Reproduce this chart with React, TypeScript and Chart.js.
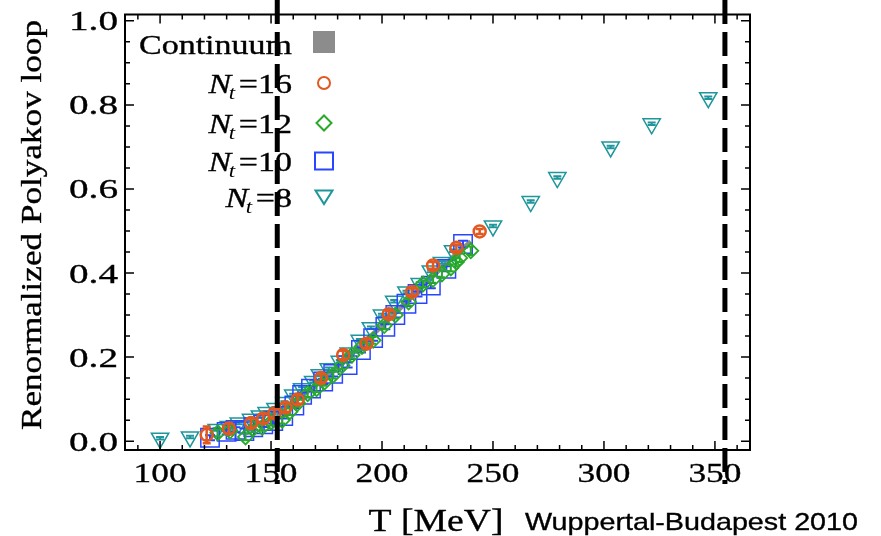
import React, { useEffect, useRef } from "react";
import { Chart, registerables } from "chart.js";

Chart.register(...registerables);

// ---------- data ----------
const nt16T = [121, 131, 141, 146.5, 151.5, 156.5, 162, 172.5, 182.5, 193, 203, 213.5, 223, 233.5, 244];
const nt16Y = [0.015, 0.03, 0.043, 0.054, 0.066, 0.08, 0.099, 0.15, 0.205, 0.232, 0.302, 0.355, 0.418, 0.46, 0.499];
const nt16Err = [0.02, 0.012, 0.011, 0.01, 0.01, 0.01, 0.01, 0.01, 0.01, 0.01, 0.008, 0.008, 0.008, 0.008, 0.006];

const nt12T = [126, 131.5, 138.5, 142, 146, 150, 155, 158.5, 162, 166.5, 170.5, 174, 178, 182, 186.5, 191, 196, 201, 206, 212, 218.5, 223, 227, 231, 233.5, 235, 240];
const nt12Y = [0.02, 0.024, 0.01, 0.03, 0.033, 0.045, 0.05, 0.07, 0.09, 0.113, 0.125, 0.14, 0.157, 0.18, 0.205, 0.225, 0.24, 0.275, 0.3, 0.331, 0.374, 0.385, 0.398, 0.412, 0.426, 0.436, 0.453];
const nt12Err = [0.008, 0.008, 0.008, 0.008, 0.008, 0.008, 0.008, 0.008, 0.008, 0.008, 0.008, 0.008, 0.008, 0.008, 0.008, 0.008, 0.008, 0.008, 0.008, 0.008, 0.008, 0.008, 0.008, 0.008, 0.01, 0.01, 0.01];

const nt10T = [122.5, 130, 134, 138, 142, 146.5, 151, 155.5, 160.5, 164, 168, 173.5, 178, 184.5, 190.5, 196, 201.5, 206, 211, 216, 222, 229, 236.5];
const nt10Y = [0.008, 0.022, 0.027, 0.024, 0.033, 0.04, 0.048, 0.06, 0.085, 0.11, 0.125, 0.142, 0.16, 0.181, 0.217, 0.245, 0.272, 0.3, 0.327, 0.35, 0.37, 0.41, 0.469];
const nt10Err = [0.006, 0.006, 0.006, 0.006, 0.006, 0.006, 0.006, 0.006, 0.006, 0.006, 0.006, 0.006, 0.006, 0.006, 0.006, 0.006, 0.006, 0.006, 0.006, 0.006, 0.006, 0.006, 0.008];

const nt8T = [100, 113.5, 125.5, 131, 135.5, 141, 145, 148, 152, 156, 160, 164, 169, 172, 176, 181, 185, 190, 195, 200, 205.5, 211, 217, 222, 227, 232, 250, 267, 279, 303, 321.5, 347];
const nt8Y = [0.007, 0.01, 0.028, 0.035, 0.043, 0.052, 0.06, 0.068, 0.078, 0.092, 0.11, 0.125, 0.142, 0.158, 0.172, 0.19, 0.21, 0.24, 0.27, 0.3, 0.333, 0.355, 0.375, 0.405, 0.425, 0.453, 0.512, 0.57, 0.627, 0.7, 0.755, 0.817];
const nt8Err = [0.003, 0.003, 0.003, 0.003, 0.003, 0.003, 0.003, 0.003, 0.003, 0.003, 0.003, 0.003, 0.003, 0.003, 0.003, 0.003, 0.003, 0.003, 0.003, 0.003, 0.003, 0.003, 0.003, 0.003, 0.003, 0.003, 0.003, 0.003, 0.003, 0.003, 0.003, 0.003];

const contT = [150, 160, 170, 180, 190, 200, 210, 220, 230, 240];
const contY = [0.062, 0.093, 0.133, 0.178, 0.225, 0.275, 0.326, 0.378, 0.428, 0.475];

const xTickValues = [100, 150, 200, 250, 300, 350];
const xTickLabels = ["100", "150", "200", "250", "300", "350"];
const yTickValues = [0, 0.2, 0.4, 0.6, 0.8, 1.0];
const yTickLabels = ["0.0", "0.2", "0.4", "0.6", "0.8", "1.0"];
const dashedT = [152.8, 354.5];

const legendNt = ["16", "12", "10", "8"];

// ---------- style ----------
const ORANGE = "rgb(226,88,32)";
const GREEN = "rgb(40,170,40)";
const BLUE = "rgb(40,70,255)";
const TEAL = "rgb(30,150,155)";
const GREY = "rgb(140,140,140)";
const SERIF = '"Liberation Serif", "Times New Roman", serif';
const SANS = '"Liberation Sans", Arial, sans-serif';

const pts = (xs: number[], ys: number[]) => xs.map((x, i) => ({ x, y: ys[i] }));

// horizontal scale so that `ref` text at `font` spans `target` px
function fitScale(ctx: CanvasRenderingContext2D, ref: string, font: string, target: number) {
  ctx.save();
  ctx.font = font;
  const w = ctx.measureText(ref).width;
  ctx.restore();
  return w > 0 ? target / w : 1;
}

function stretchText(ctx: CanvasRenderingContext2D, text: string, x: number, y: number, sx: number, align: CanvasTextAlign, font: string) {
  ctx.save();
  ctx.font = font;
  ctx.textAlign = align;
  ctx.textBaseline = "alphabetic";
  ctx.translate(x, y);
  ctx.scale(sx, 1);
  ctx.fillText(text, 0, 0);
  ctx.lineWidth = 0.35;
  ctx.strokeStyle = ctx.fillStyle as string;
  ctx.strokeText(text, 0, 0);
  ctx.restore();
}

function drawMarker(ctx: CanvasRenderingContext2D, kind: string, x: number, y: number, color: string) {
  ctx.save();
  ctx.strokeStyle = color;
  ctx.lineWidth = 2;
  ctx.beginPath();
  if (kind === "circle") {
    ctx.arc(x, y, 6, 0, Math.PI * 2);
  } else if (kind === "diamond") {
    ctx.moveTo(x, y - 7.5);
    ctx.lineTo(x + 7.5, y);
    ctx.lineTo(x, y + 7.5);
    ctx.lineTo(x - 7.5, y);
    ctx.closePath();
  } else if (kind === "square") {
    ctx.rect(x - 9, y - 8.5, 18, 17);
  } else if (kind === "triangle") {
    ctx.moveTo(x - 8.5, y - 6.5);
    ctx.lineTo(x + 8.5, y - 6.5);
    ctx.lineTo(x, y + 7);
    ctx.closePath();
  }
  ctx.stroke();
  ctx.restore();
}

const errorBarPlugin = {
  id: "errorBars",
  afterDatasetDraw(chart: any, args: any) {
    const ds = chart.data.datasets[args.index];
    if (!ds.errs) return;
    const ctx = chart.ctx;
    const xs = chart.scales.x;
    const ys = chart.scales.y;
    ctx.save();
    ctx.strokeStyle = ds.errColor;
    ctx.lineWidth = ds.errWidth;
    ds.data.forEach((p: any, i: number) => {
      const e = ds.errs[i];
      const px = xs.getPixelForValue(p.x);
      const y1 = ys.getPixelForValue(p.y - e);
      const y2 = ys.getPixelForValue(p.y + e);
      const cw = ds.capHalf;
      ctx.beginPath();
      ctx.moveTo(px, y1);
      ctx.lineTo(px, y2);
      ctx.moveTo(px - cw, y1);
      ctx.lineTo(px + cw, y1);
      ctx.moveTo(px - cw, y2);
      ctx.lineTo(px + cw, y2);
      ctx.stroke();
    });
    ctx.restore();
  },
};

const framePlugin = {
  id: "frameDecor",
  afterDraw(chart: any) {
    const ctx: CanvasRenderingContext2D = chart.ctx;
    const a = chart.chartArea;
    const xs = chart.scales.x;
    const ys = chart.scales.y;
    ctx.save();
    ctx.fillStyle = "#000";
    ctx.strokeStyle = "#000";

    // ticks (inward)
    ctx.lineWidth = 1.5;
    ctx.beginPath();
    for (let v = 90; v <= 360; v += 10) {
      const px = xs.getPixelForValue(v);
      const len = v % 50 === 0 ? 9 : 5;
      ctx.moveTo(px, a.bottom);
      ctx.lineTo(px, a.bottom - len);
      ctx.moveTo(px, a.top);
      ctx.lineTo(px, a.top + len);
    }
    for (let k = 0; k <= 20; k++) {
      const v = k * 0.05;
      const py = ys.getPixelForValue(v);
      const len = k % 4 === 0 ? 9 : 5;
      ctx.moveTo(a.left, py);
      ctx.lineTo(a.left + len, py);
      ctx.moveTo(a.right, py);
      ctx.lineTo(a.right - len, py);
    }
    ctx.stroke();

    // frame
    ctx.lineWidth = 2;
    ctx.strokeRect(a.left, a.top, a.right - a.left, a.bottom - a.top);

    // tick labels
    const tickFont = `28px ${SERIF}`;
    const sxX = fitScale(ctx, "100", tickFont, 53);
    const sxY = fitScale(ctx, "0.8", tickFont, 49);
    xTickValues.forEach((v, i) => {
      stretchText(ctx, xTickLabels[i], xs.getPixelForValue(v), 482, sxX, "center", tickFont);
    });
    yTickValues.forEach((v, i) => {
      stretchText(ctx, yTickLabels[i], 118, ys.getPixelForValue(v) + 9.5, sxY, "right", tickFont);
    });

    // axis titles
    const yTitle = "Renormalized Polyakov loop";
    const yTitleFont = `30px ${SERIF}`;
    const sYT = fitScale(ctx, yTitle, yTitleFont, 410);
    ctx.save();
    ctx.font = yTitleFont;
    ctx.textAlign = "center";
    ctx.textBaseline = "alphabetic";
    ctx.translate(41, 225);
    ctx.rotate(-Math.PI / 2);
    ctx.scale(sYT, 1);
    ctx.fillText(yTitle, 0, 0);
    ctx.lineWidth = 0.35;
    ctx.strokeText(yTitle, 0, 0);
    ctx.restore();

    const xTitleFont = `32px ${SERIF}`;
    stretchText(ctx, "T [MeV]", 436, 531, fitScale(ctx, "T [MeV]", xTitleFont, 135), "center", xTitleFont);
    const wmFont = `24px ${SANS}`;
    const wm = "Wuppertal-Budapest 2010";
    stretchText(ctx, wm, 525, 530, fitScale(ctx, wm, wmFont, 333), "left", wmFont);

    // legend
    const legFont = `28px ${SERIF}`;
    const lsx = fitScale(ctx, "Continuum", legFont, 153);
    stretchText(ctx, "Continuum", 292, 54, lsx, "right", legFont);
    ctx.fillStyle = GREY;
    ctx.fillRect(313, 31, 22, 22);
    ctx.fillStyle = "#000";
    const rowsY = [83, 123, 161, 197];
    const kinds = ["circle", "diamond", "square", "triangle"];
    const colors = [ORANGE, GREEN, BLUE, TEAL];
    legendNt.forEach((num, i) => {
      const base = rowsY[i] + 10;
      const fN = `italic 28px ${SERIF}`;
      const fT = `italic 19px ${SERIF}`;
      const fM = `28px ${SERIF}`;
      ctx.font = fN;
      const wN = ctx.measureText("N").width;
      ctx.font = fT;
      const wt = ctx.measureText("t").width;
      ctx.font = fM;
      const wEq = ctx.measureText("=" + num).width;
      const total = (wN + wt + 1 + wEq) * lsx;
      const start = 292 - total;
      ctx.save();
      ctx.translate(start, base);
      ctx.scale(lsx, 1);
      ctx.textAlign = "left";
      ctx.textBaseline = "alphabetic";
      ctx.lineWidth = 0.35;
      ctx.strokeStyle = "#000";
      ctx.font = fN;
      ctx.fillText("N", 0, 0);
      ctx.strokeText("N", 0, 0);
      ctx.font = fT;
      ctx.fillText("t", wN - 2, 6);
      ctx.font = fM;
      ctx.fillText("=" + num, wN + wt + 1, 0);
      ctx.strokeText("=" + num, wN + wt + 1, 0);
      ctx.restore();
      drawMarker(ctx, kinds[i], 324, rowsY[i], colors[i]);
    });

    // dashed vertical lines
    ctx.strokeStyle = "#000";
    ctx.lineWidth = 5;
    ctx.setLineDash([24, 8]);
    dashedT.forEach((t) => {
      const px = xs.getPixelForValue(t);
      ctx.beginPath();
      ctx.moveTo(px, 0);
      ctx.lineTo(px, 484);
      ctx.stroke();
    });
    ctx.setLineDash([]);
    ctx.restore();
  },
};

export default function App() {
  const ref = useRef<HTMLCanvasElement | null>(null);

  useEffect(() => {
    if (!ref.current) return;
    const chart = new Chart(ref.current, {
      type: "scatter",
      data: {
        datasets: [
          {
            label: "Nt=16",
            data: pts(nt16T, nt16Y),
            pointStyle: "circle",
            pointRadius: 6,
            pointBorderWidth: 2.5,
            pointBorderColor: ORANGE,
            pointBackgroundColor: "rgba(0,0,0,0)",
            borderColor: ORANGE,
            errs: nt16Err,
            errColor: ORANGE,
            errWidth: 2.5,
            capHalf: 4,
          } as any,
          {
            label: "Nt=12",
            data: pts(nt12T, nt12Y),
            pointStyle: "rectRot",
            pointRadius: 7.5,
            pointBorderWidth: 1.8,
            pointBorderColor: GREEN,
            pointBackgroundColor: "rgba(0,0,0,0)",
            borderColor: GREEN,
            errs: nt12Err,
            errColor: GREEN,
            errWidth: 2,
            capHalf: 3,
          } as any,
          {
            label: "Nt=10",
            data: pts(nt10T, nt10Y),
            pointStyle: "rect",
            pointRadius: 13,
            pointBorderWidth: 1.5,
            pointBorderColor: BLUE,
            pointBackgroundColor: "rgba(0,0,0,0)",
            borderColor: BLUE,
            errs: nt10Err,
            errColor: BLUE,
            errWidth: 2,
            capHalf: 5,
          } as any,
          {
            label: "Nt=8",
            data: pts(nt8T, nt8Y),
            pointStyle: "triangle",
            pointRotation: 180,
            pointRadius: 10,
            pointBorderWidth: 1.5,
            pointBorderColor: TEAL,
            pointBackgroundColor: "rgba(0,0,0,0)",
            borderColor: TEAL,
            errs: nt8Err,
            errColor: TEAL,
            errWidth: 2,
            capHalf: 4,
          } as any,
          {
            label: "Continuum",
            data: pts(contT, contY),
            showLine: true,
            pointRadius: 0,
            borderColor: GREY,
            borderWidth: 5,
            tension: 0.3,
          } as any,
        ],
      },
      options: {
        animation: false,
        responsive: false,
        events: [],
        layout: { padding: { left: 125, right: 131, top: 12, bottom: 86 } },
        plugins: {
          legend: { display: false },
          tooltip: { enabled: false },
          title: { display: false },
        },
        scales: {
          x: { type: "linear", display: false, min: 84.2, max: 365.8 },
          y: { type: "linear", display: false, min: -0.021, max: 1.015 },
        },
      },
      plugins: [errorBarPlugin, framePlugin],
    });
    return () => chart.destroy();
  }, []);

  return (
    <div style={{ position: "absolute", left: 0, top: 0, width: 881, height: 536, background: "#fff" }}>
      <canvas ref={ref} width={881} height={536} style={{ display: "block", width: 881, height: 536 }} />
    </div>
  );
}
